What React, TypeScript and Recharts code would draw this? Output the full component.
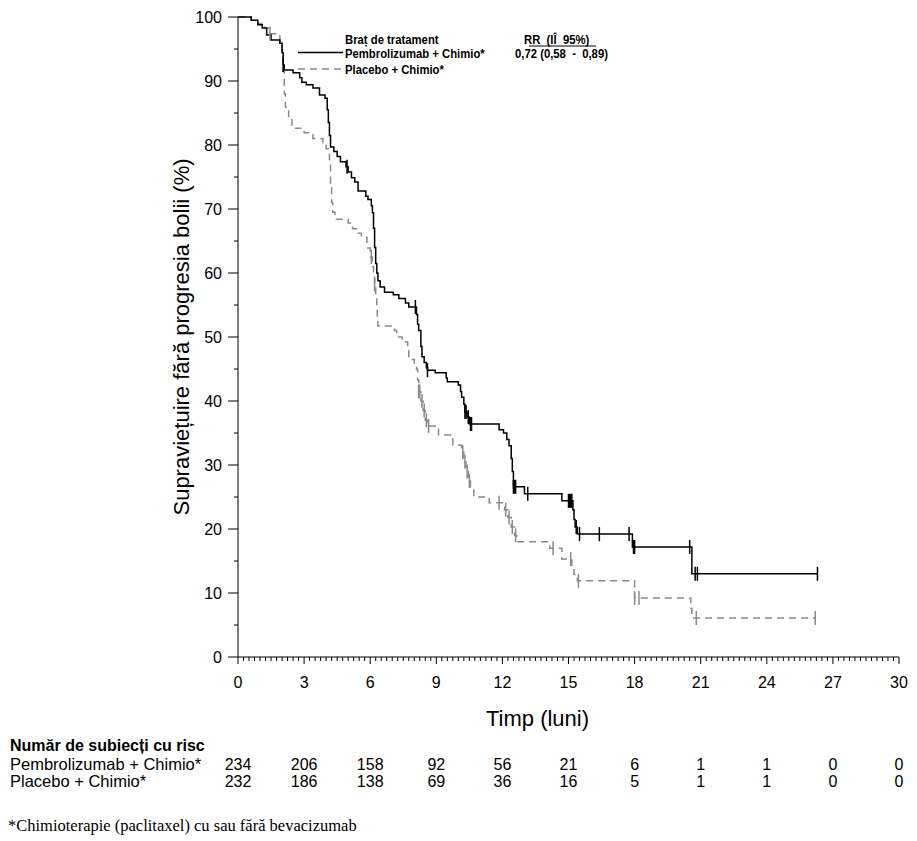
import React from 'react'
import { ComposedChart, Line, Scatter, XAxis, YAxis } from 'recharts'

// Kaplan-Meier steps: [month, % progression-free] (value after each drop)
const pembroSteps: [number, number][] = [
  [0, 100], [0.6, 99.5], [0.9, 98.8], [1.1, 98.3], [1.3, 97.2], [1.5, 96.4], [1.9, 95.9],
  [2.0, 94.4], [2.05, 92.5], [2.1, 91.7], [2.5, 91.3], [2.8, 90.5], [2.9, 89.8], [3.1, 89.4],
  [3.4, 88.9], [3.7, 87.8], [3.95, 87.3], [4.05, 85.5], [4.1, 83.5], [4.15, 81.5], [4.2, 79.7],
  [4.35, 79.0], [4.5, 78.2], [4.65, 77.4], [4.9, 76.6], [5.0, 75.8], [5.15, 74.9], [5.3, 74.2],
  [5.45, 72.8], [5.8, 72.0], [5.9, 71.5], [6.05, 70.5], [6.1, 69.4], [6.15, 67.0], [6.2, 64.0],
  [6.25, 61.5], [6.3, 60.0], [6.35, 58.8], [6.45, 57.8], [6.65, 57.0], [7.05, 56.6], [7.3, 56.0],
  [7.6, 55.3], [7.75, 54.7], [8.1, 53.5], [8.15, 52.0], [8.2, 51.0], [8.3, 48.5], [8.35, 46.9],
  [8.45, 46.0], [8.55, 45.2], [8.6, 44.8], [8.95, 44.4], [9.45, 43.6], [9.5, 43.0], [10.0, 42.5],
  [10.1, 41.5], [10.15, 40.6], [10.25, 39.5], [10.3, 38.3], [10.4, 37.5], [10.5, 36.4],
  [11.85, 35.5], [12.05, 35.0], [12.2, 34.0], [12.3, 33.0], [12.4, 31.0], [12.45, 29.0],
  [12.5, 26.6], [13.0, 25.5], [14.7, 24.4], [15.2, 23.0], [15.25, 21.5], [15.3, 20.3],
  [15.4, 19.2], [17.9, 17.2], [20.6, 13.0], [26.3, 13.0],
]

const placeboSteps: [number, number][] = [
  [0, 100], [0.6, 99.5], [0.9, 99.0], [1.2, 98.3], [1.4, 97.4], [1.9, 95.9], [2.0, 94.4],
  [2.05, 91.5], [2.1, 88.0], [2.15, 85.9], [2.3, 84.2], [2.45, 82.6], [3.0, 81.9], [3.4, 81.0],
  [3.85, 80.4], [4.0, 79.4], [4.15, 77.0], [4.2, 74.0], [4.25, 71.0], [4.3, 69.5], [4.4, 68.4],
  [5.0, 67.8], [5.2, 66.9], [5.45, 66.2], [5.6, 65.6], [5.85, 63.9], [6.0, 62.5], [6.1, 61.0],
  [6.15, 59.5], [6.2, 58.2], [6.25, 56.5], [6.3, 54.5], [6.32, 52.5], [6.35, 51.7], [7.1, 51.0],
  [7.2, 50.0], [7.45, 49.2], [7.7, 48.4], [7.75, 46.5], [8.0, 45.8], [8.1, 45.0], [8.15, 43.3],
  [8.2, 41.5], [8.3, 40.0], [8.4, 38.5], [8.5, 37.0], [8.6, 36.1], [9.1, 34.7], [9.75, 33.1],
  [10.15, 32.0], [10.25, 30.5], [10.35, 29.0], [10.45, 27.5], [10.55, 26.1], [10.7, 25.0],
  [11.4, 24.1], [12.1, 23.0], [12.25, 21.8], [12.4, 20.3], [12.55, 19.0], [12.65, 18.0],
  [14.15, 17.0], [14.7, 15.3], [15.15, 14.0], [15.25, 12.9], [15.4, 11.9], [18.0, 9.2],
  [20.55, 7.6], [20.6, 6.1], [26.2, 6.1],
]

// censored observations (months)
const pembroCensored = [
  2.05, 4.95, 8.05, 8.6, 10.3, 10.35, 10.45, 10.55, 10.6, 12.5, 12.55, 12.6, 13.15, 15.0, 15.05,
  15.1, 15.15, 15.35, 15.5, 16.4, 17.75, 17.95, 18.0, 20.5, 20.75, 20.85, 26.3,
]
const placeboCensored = [
  1.45, 6.05, 6.2, 8.2, 8.25, 8.35, 8.45, 8.55, 8.65, 10.2, 10.3, 10.4, 10.5, 11.85, 12.15, 12.3,
  12.45, 12.6, 14.3, 15.1, 15.45, 18.0, 18.2, 20.8, 26.2,
]

const majorX = [0, 3, 6, 9, 12, 15, 18, 21, 24, 27, 30]
const minorX = Array.from({ length: 121 }, (_, i) => i * 0.25)
const yTicks = Array.from({ length: 21 }, (_, i) => i * 5)

const riskPembro = [234, 206, 158, 92, 56, 21, 6, 1, 1, 0, 0]
const riskPlacebo = [232, 186, 138, 69, 36, 16, 5, 1, 1, 0, 0]

const BLACK = '#000000'
const GREY = '#8a8a8a'
const SANS = '"Liberation Sans", Arial, sans-serif'

const toPoints = (steps: [number, number][]) => steps.map(([t, s]) => ({ t, s }))

// survival at time t read from the step function
const survAt = (steps: [number, number][], t: number) => {
  let s = steps[0][1]
  for (const [tt, ss] of steps) if (tt <= t + 1e-9) s = ss
  return s
}
const censorPoints = (steps: [number, number][], times: number[]) =>
  times.map((t) => ({ t, s: survAt(steps, t) }))

const CensorMark = (color: string) => (props: any) => {
  const { cx, cy } = props
  return <line x1={cx} x2={cx} y1={cy - 7} y2={cy + 7} stroke={color} strokeWidth={1.5} />
}

// x ticks: weekly-ish minor marks, labelled every 3 months, with the at-risk counts underneath
const XTick = (props: any) => {
  const { x, y, payload } = props
  const v = payload.value as number
  const i = majorX.indexOf(v)
  const major = i >= 0
  return (
    <g>
      <line x1={x} x2={x} y1={y} y2={y + (major ? 7 : 4)} stroke={BLACK} />
      {major && (
        <g fontSize={16} fontFamily={SANS} fill={BLACK} textAnchor="middle">
          <text x={x} y={y + 31}>{v}</text>
          <text x={x} y={y + 113}>{riskPembro[i]}</text>
          <text x={x} y={y + 130}>{riskPlacebo[i]}</text>
        </g>
      )}
    </g>
  )
}

const YTick = (props: any) => {
  const { x, y, payload } = props
  const v = payload.value as number
  const major = v % 10 === 0
  return (
    <g>
      <line x1={x} x2={x - (major ? 10 : 4)} y1={y} y2={y} stroke={BLACK} />
      {major && (
        <text x={x - 16} y={y + 6} textAnchor="end" fontSize={16} fontFamily={SANS} fill={BLACK}>
          {v}
        </text>
      )}
    </g>
  )
}

// condensed bold text for the legend block
const Narrow = ({ x, y, children }: { x: number; y: number; children: React.ReactNode }) => (
  <g transform={`translate(${x} ${y}) scale(0.87 1)`}>
    <text x={0} y={0} fontFamily={SANS} fontWeight="bold" fontSize={13} fill={BLACK} style={{ whiteSpace: 'pre' }}>
      {children}
    </text>
  </g>
)

export default function App() {
  return (
    <div style={{ position: 'absolute', left: 0, top: 0, width: 917, height: 841, background: '#fff' }}>
      <ComposedChart width={917} height={792} margin={{ top: 17, right: 18, left: 0, bottom: 0 }}>
        <XAxis
          xAxisId="main"
          type="number"
          dataKey="t"
          domain={[0, 30]}
          ticks={minorX}
          interval={0}
          allowDataOverflow
          height={135}
          tickSize={0}
          tickMargin={0}
          tickLine={false}
          axisLine={{ stroke: BLACK }}
          tick={<XTick />}
          label={{
            content: (p: any) => {
              const vb = p.viewBox
              return (
                <text x={vb.x + vb.width / 2 - 31} y={vb.y + 69} textAnchor="middle" fontSize={22} fontFamily={SANS} fill={BLACK}>
                  Timp (luni)
                </text>
              )
            },
          }}
        />
        <XAxis xAxisId="top" orientation="top" type="number" domain={[0, 30]} height={0} tick={false} tickLine={false} axisLine={{ stroke: BLACK }} />
        <YAxis
          yAxisId="left"
          type="number"
          domain={[0, 100]}
          ticks={yTicks}
          interval={0}
          width={238}
          tickSize={0}
          tickMargin={0}
          tickLine={false}
          axisLine={{ stroke: BLACK }}
          tick={<YTick />}
          label={{
            content: (p: any) => {
              const vb = p.viewBox
              const cx = vb.x + 181
              const cy = vb.y + vb.height / 2
              return (
                <text x={cx} y={cy} transform={`rotate(-90 ${cx} ${cy})`} textAnchor="middle" dominantBaseline="central" fontSize={22} fontFamily={SANS} fill={BLACK}>
                  Supraviețuire fără progresia bolii (%)
                </text>
              )
            },
          }}
        />
        <YAxis yAxisId="right" orientation="right" type="number" domain={[0, 100]} width={0} tick={false} tickLine={false} axisLine={{ stroke: BLACK }} />

        <Line
          xAxisId="main"
          yAxisId="left"
          data={toPoints(placeboSteps)}
          dataKey="s"
          type="stepAfter"
          stroke={GREY}
          strokeWidth={1.5}
          strokeDasharray="7 5"
          dot={false}
          activeDot={false}
          isAnimationActive={false}
        />
        <Line
          xAxisId="main"
          yAxisId="left"
          data={toPoints(pembroSteps)}
          dataKey="s"
          type="stepAfter"
          stroke={BLACK}
          strokeWidth={1.5}
          dot={false}
          activeDot={false}
          isAnimationActive={false}
        />
        <Scatter
          xAxisId="main"
          yAxisId="left"
          data={censorPoints(placeboSteps, placeboCensored)}
          dataKey="s"
          shape={CensorMark(GREY)}
          isAnimationActive={false}
        />
        <Scatter
          xAxisId="main"
          yAxisId="left"
          data={censorPoints(pembroSteps, pembroCensored)}
          dataKey="s"
          shape={CensorMark(BLACK)}
          isAnimationActive={false}
        />
      </ComposedChart>

      <svg width={917} height={841} style={{ position: 'absolute', left: 0, top: 0, pointerEvents: 'none' }}>
        {/* legend */}
        <Narrow x={345} y={44}>Braț de tratament</Narrow>
        <Narrow x={345} y={58}>Pembrolizumab + Chimio*</Narrow>
        <Narrow x={345} y={74}>Placebo + Chimio*</Narrow>
        <Narrow x={524} y={44}>RR  (IÎ  95%)</Narrow>
        <Narrow x={515} y={58}>0,72 (0,58  -  0,89)</Narrow>
        <line x1={529} x2={596} y1={46} y2={46} stroke={BLACK} strokeWidth={1.2} />
        <line x1={298} x2={343} y1={52.5} y2={52.5} stroke={BLACK} strokeWidth={1.5} />
        <line x1={298} x2={343} y1={69} y2={69} stroke={GREY} strokeWidth={1.5} strokeDasharray="7 5" />

        {/* number at risk */}
        <text x={10} y={751} fontFamily={SANS} fontWeight="bold" fontSize={16} fill={BLACK}>
          Număr de subiecți cu risc
        </text>
        <text x={10} y={770} fontFamily={SANS} fontSize={16.5} fill={BLACK}>
          Pembrolizumab + Chimio*
        </text>
        <text x={10} y={787} fontFamily={SANS} fontSize={16.5} fill={BLACK}>
          Placebo + Chimio*
        </text>

        <text x={8} y={831} fontFamily='"Liberation Serif", "Times New Roman", serif' fontSize={16.5} fill={BLACK}>
          *Chimioterapie (paclitaxel) cu sau fără bevacizumab
        </text>
      </svg>
    </div>
  )
}
